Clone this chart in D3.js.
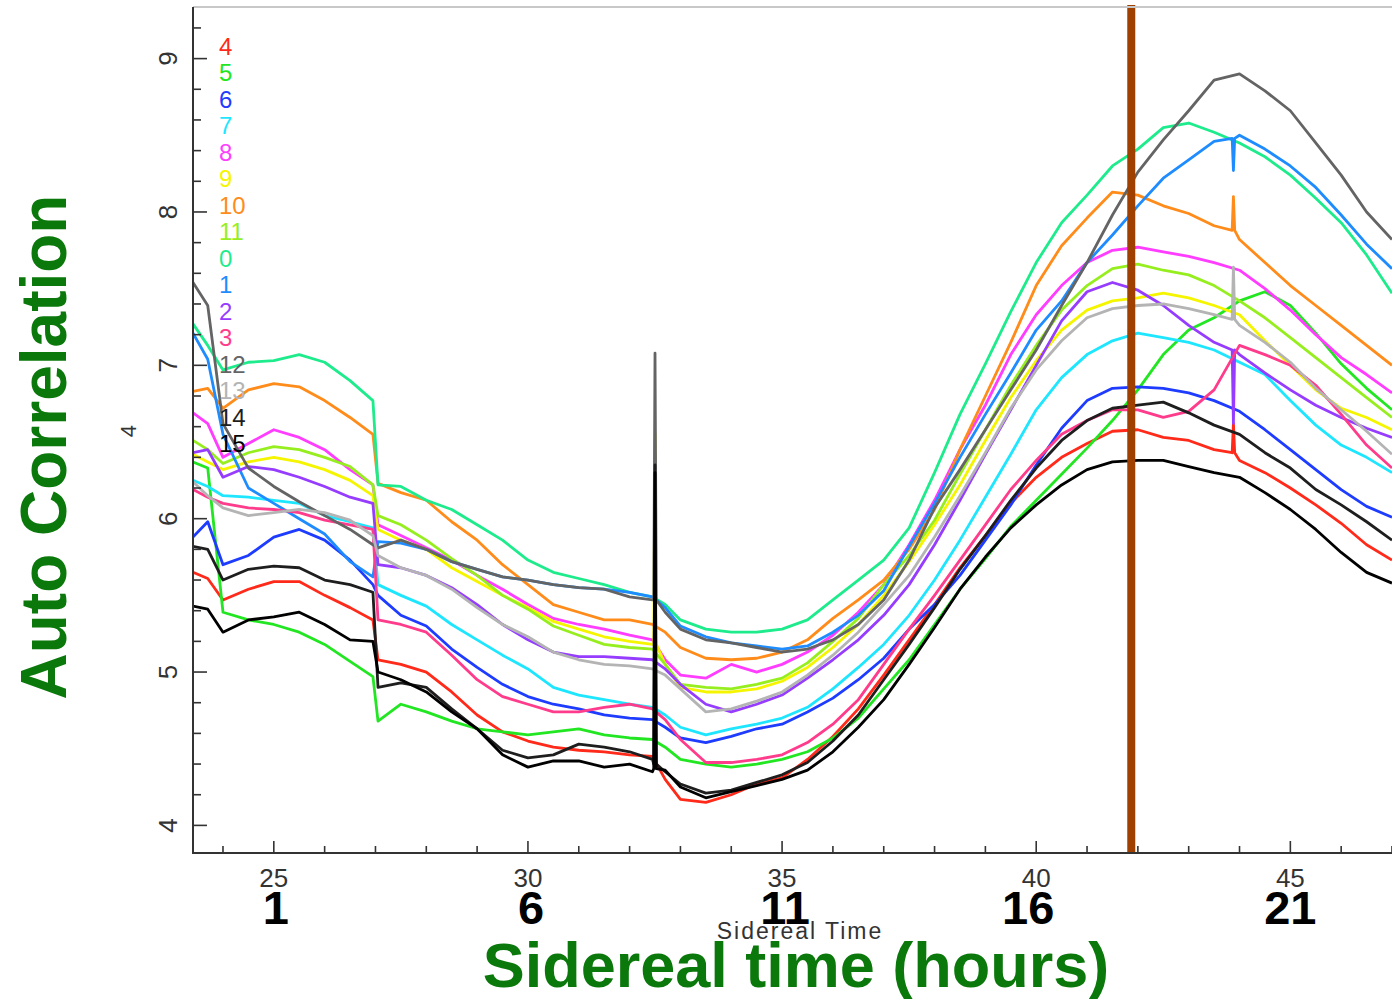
<!DOCTYPE html>
<html><head><meta charset="utf-8">
<script src="https://cdn.jsdelivr.net/npm/d3@7"></script>
<style>body{margin:0;background:#fff}svg{display:block}</style>
</head><body><svg id="c" width="1392" height="999"></svg>
<script>
// sample times (sidereal hours, continuous)
const hours = [23.41,23.7,24.0,24.5,25.0,25.5,26.0,26.5,26.95,27.05,27.5,28.0,28.5,29.0,29.5,30.0,30.5,31.0,31.5,32.0,32.45,32.7,33.0,33.5,34.0,34.5,35.0,35.5,36.0,36.5,37.0,37.5,38.0,38.5,39.0,39.5,40.0,40.5,41.0,41.5,42.0,42.5,43.0,43.5,44.0,44.5,45.0,45.5,46.0,46.5,47.0];

const ch4  = [5.65,5.61,5.47,5.54,5.59,5.59,5.50,5.42,5.34,5.08,5.05,5.00,4.87,4.72,4.61,4.55,4.51,4.49,4.48,4.46,4.45,4.30,4.17,4.15,4.20,4.27,4.31,4.43,4.58,4.76,4.98,5.21,5.44,5.68,5.89,6.10,6.27,6.40,6.49,6.57,6.58,6.53,6.51,6.45,6.38,6.30,6.20,6.09,5.97,5.83,5.73];
const ch5  = [6.37,6.33,5.39,5.34,5.31,5.26,5.18,5.07,4.97,4.68,4.79,4.74,4.68,4.63,4.61,4.59,4.61,4.63,4.59,4.57,4.56,4.51,4.43,4.40,4.38,4.40,4.43,4.48,4.57,4.70,4.89,5.08,5.31,5.54,5.74,5.95,6.12,6.29,6.46,6.64,6.84,7.07,7.23,7.31,7.42,7.48,7.39,7.21,7.01,6.85,6.71];
const ch6  = [5.88,5.98,5.70,5.76,5.88,5.93,5.86,5.73,5.57,5.50,5.37,5.30,5.15,5.03,4.92,4.84,4.79,4.76,4.72,4.70,4.69,4.64,4.57,4.54,4.58,4.63,4.66,4.74,4.83,4.95,5.09,5.28,5.44,5.63,5.86,6.09,6.35,6.59,6.77,6.85,6.86,6.85,6.82,6.77,6.70,6.58,6.45,6.32,6.19,6.08,6.01];
const ch7  = [6.25,6.21,6.15,6.14,6.12,6.10,6.02,5.98,5.94,5.57,5.50,5.43,5.31,5.21,5.11,5.02,4.90,4.85,4.82,4.79,4.77,4.72,4.64,4.59,4.63,4.66,4.70,4.77,4.89,5.03,5.18,5.37,5.60,5.86,6.14,6.42,6.71,6.92,7.07,7.16,7.21,7.18,7.15,7.10,7.02,6.94,6.77,6.61,6.48,6.40,6.30];
const ch8  = [6.69,6.62,6.40,6.49,6.58,6.53,6.45,6.32,6.22,5.96,5.89,5.81,5.73,5.63,5.54,5.44,5.35,5.31,5.28,5.24,5.21,5.08,4.98,4.96,5.05,5.00,5.05,5.13,5.24,5.39,5.57,5.83,6.12,6.45,6.74,7.07,7.33,7.52,7.67,7.75,7.77,7.74,7.71,7.67,7.62,7.50,7.36,7.20,7.05,6.94,6.82];
const ch9  = [6.42,6.37,6.32,6.37,6.40,6.37,6.32,6.25,6.15,5.93,5.86,5.80,5.68,5.59,5.50,5.42,5.33,5.28,5.23,5.20,5.18,5.05,4.90,4.87,4.87,4.89,4.94,5.03,5.16,5.31,5.50,5.72,5.96,6.22,6.51,6.79,7.03,7.23,7.36,7.42,7.44,7.47,7.44,7.39,7.33,7.16,7.00,6.84,6.72,6.66,6.58];
const ch10 = [6.83,6.85,6.72,6.84,6.88,6.86,6.77,6.66,6.55,6.23,6.17,6.12,5.98,5.86,5.70,5.57,5.44,5.39,5.34,5.34,5.31,5.26,5.16,5.09,5.08,5.09,5.13,5.21,5.35,5.47,5.60,5.80,6.06,6.45,6.80,7.15,7.52,7.78,7.96,8.13,8.11,8.04,7.99,7.91,7.82,7.67,7.52,7.39,7.26,7.13,7.00];
const ch11 = [6.51,6.45,6.36,6.43,6.47,6.45,6.40,6.34,6.22,6.02,5.96,5.86,5.74,5.63,5.50,5.41,5.30,5.24,5.18,5.16,5.15,5.05,4.92,4.90,4.89,4.92,4.96,5.06,5.20,5.35,5.57,5.76,5.99,6.29,6.58,6.87,7.13,7.36,7.52,7.63,7.66,7.62,7.59,7.52,7.42,7.31,7.18,7.05,6.92,6.79,6.66];
const ch0  = [7.27,7.13,6.97,7.02,7.03,7.07,7.02,6.90,6.77,6.22,6.21,6.12,6.06,5.96,5.86,5.73,5.65,5.61,5.57,5.52,5.49,5.44,5.34,5.28,5.26,5.26,5.28,5.34,5.47,5.60,5.73,5.94,6.30,6.68,7.01,7.35,7.67,7.93,8.11,8.30,8.41,8.55,8.58,8.52,8.45,8.36,8.24,8.09,7.93,7.72,7.47];
const ch1  = [7.21,7.04,6.55,6.20,6.10,6.00,5.90,5.72,5.62,5.85,5.84,5.80,5.72,5.67,5.62,5.60,5.57,5.55,5.54,5.52,5.49,5.42,5.30,5.23,5.19,5.17,5.15,5.17,5.26,5.37,5.53,5.82,6.10,6.40,6.68,6.95,7.23,7.42,7.67,7.85,8.04,8.22,8.34,8.46,8.50,8.41,8.30,8.16,7.98,7.79,7.63];
const ch2  = [6.43,6.45,6.27,6.34,6.32,6.27,6.21,6.14,6.10,5.70,5.68,5.63,5.55,5.44,5.31,5.21,5.13,5.10,5.10,5.09,5.08,5.02,4.92,4.79,4.74,4.79,4.85,4.96,5.08,5.21,5.37,5.57,5.83,6.12,6.42,6.71,7.00,7.29,7.48,7.54,7.49,7.39,7.26,7.15,7.07,6.95,6.84,6.74,6.66,6.59,6.53];
const ch3  = [6.19,6.14,6.10,6.07,6.06,6.04,5.99,5.96,5.93,5.34,5.31,5.26,5.11,4.95,4.84,4.79,4.74,4.74,4.77,4.79,4.76,4.69,4.56,4.41,4.41,4.43,4.46,4.54,4.66,4.82,5.05,5.28,5.50,5.73,5.96,6.19,6.38,6.55,6.64,6.71,6.71,6.66,6.70,6.84,7.13,7.07,7.00,6.87,6.68,6.48,6.33];
const ch12 = [7.54,7.39,6.62,6.33,6.21,6.11,6.02,5.93,5.83,5.81,5.86,5.80,5.72,5.67,5.62,5.60,5.57,5.55,5.54,5.49,5.47,5.39,5.28,5.21,5.19,5.16,5.13,5.15,5.21,5.31,5.47,5.73,6.07,6.32,6.58,6.84,7.10,7.39,7.67,7.98,8.26,8.47,8.66,8.86,8.90,8.79,8.66,8.45,8.24,8.00,7.82];
const ch13 = [6.24,6.15,6.07,6.02,6.04,6.06,6.04,5.99,5.89,5.76,5.68,5.63,5.54,5.42,5.31,5.23,5.13,5.08,5.05,5.04,5.02,4.98,4.89,4.74,4.76,4.81,4.87,4.98,5.11,5.26,5.44,5.63,5.88,6.15,6.43,6.72,6.97,7.16,7.31,7.37,7.39,7.40,7.37,7.33,7.26,7.15,7.02,6.85,6.71,6.57,6.42];
const ch14 = [5.82,5.80,5.60,5.67,5.69,5.68,5.60,5.57,5.52,4.90,4.93,4.90,4.76,4.63,4.49,4.44,4.46,4.53,4.51,4.48,4.43,4.35,4.27,4.21,4.23,4.28,4.33,4.41,4.55,4.72,4.95,5.18,5.42,5.67,5.89,6.12,6.33,6.51,6.64,6.72,6.74,6.76,6.69,6.61,6.55,6.43,6.33,6.19,6.09,5.98,5.86];
const ch15 = [5.43,5.41,5.26,5.34,5.36,5.39,5.31,5.21,5.20,5.00,4.95,4.87,4.74,4.63,4.46,4.38,4.42,4.42,4.38,4.40,4.35,4.36,4.25,4.18,4.22,4.26,4.30,4.36,4.48,4.64,4.82,5.05,5.29,5.54,5.75,5.94,6.09,6.22,6.32,6.37,6.38,6.38,6.34,6.30,6.27,6.17,6.06,5.93,5.78,5.65,5.58];

// spikes: [channel label, hour, base value, tip value]
const spikes = [
  ['12', 32.5, 5.47, 7.08], ['9', 32.5, 5.18, 6.55], ['14', 32.5, 4.40, 6.35], ['15', 32.5, 4.37, 6.30],
  ['10', 43.88, 7.88, 8.10], ['13', 43.88, 7.30, 7.64], ['2', 43.88, 7.10, 6.62], ['4', 43.88, 6.43, 6.62], ['1', 43.88, 8.48, 8.27]
];

const legendLabels = ['4','5','6','7','8','9','10','11','0','1','2','3','12','13','14','15'];
const seriesData   = [ch4,ch5,ch6,ch7,ch8,ch9,ch10,ch11,ch0,ch1,ch2,ch3,ch12,ch13,ch14,ch15];
const colors = ['#ff2a1a','#22e622','#1e3cff','#1ee6ff','#ff3cff','#f5f500','#ff8c1a','#96ee1e','#1eeb8c','#1e8cff','#963cff','#ff3c8c','#646464','#b4b4b4','#1e1e1e','#000000'];

const xTickMajor = [25,30,35,40,45];
const hourLabels = ['1','6','11','16','21'];
const yTickMajor = [4,5,6,7,8,9];
const markerHour = 41.87;

const svg = d3.select('#c');
const x = d3.scaleLinear().domain([23.41, 47.0]).range([193, 1392]);
const y = d3.scaleLinear().domain([3.82, 9.33]).range([853, 8]);

svg.append('defs').append('clipPath').attr('id','clip')
  .append('rect').attr('x',193).attr('y',0).attr('width',1199).attr('height',853);

const line = d3.line().x(d=>x(d[0])).y(d=>y(d[1]));
const plot = svg.append('g').attr('clip-path','url(#clip)');

seriesData.forEach((vals,i)=>{
  const lab = legendLabels[i];
  let pts = hours.map((h,j)=>[h, vals[j]]);
  spikes.filter(s=>s[0]===lab).forEach(s=>{
    pts.push([s[1]-0.025, s[2]], [s[1], s[3]], [s[1]+0.025, s[2]]);
  });
  pts.sort((a,b)=>a[0]-b[0]);
  plot.append('path').datum(pts).attr('d', line)
    .attr('fill','none').attr('stroke', colors[i]).attr('stroke-width', 2.8)
    .attr('stroke-linejoin','round');
});

// marker line
svg.append('line').attr('x1',x(markerHour)).attr('x2',x(markerHour)).attr('y1',5).attr('y2',853)
  .attr('stroke','#a04000').attr('stroke-width',8);

// frame
svg.append('line').attr('x1',193).attr('x2',1392).attr('y1',7).attr('y2',7).attr('stroke','#c8c8c8').attr('stroke-width',2);
svg.append('line').attr('x1',193).attr('x2',193).attr('y1',7).attr('y2',854).attr('stroke','#333').attr('stroke-width',2);
svg.append('line').attr('x1',192).attr('x2',1392).attr('y1',853).attr('y2',853).attr('stroke','#333').attr('stroke-width',2);

// y ticks
d3.range(4.0, 9.21, 0.2).forEach(v=>{
  const major = Math.abs(v-Math.round(v))<1e-6;
  svg.append('line').attr('x1',193).attr('x2',193+(major?14:8)).attr('y1',y(v)).attr('y2',y(v))
    .attr('stroke','#333').attr('stroke-width',1.6);
});
// x ticks
d3.range(24, 48, 1).forEach(v=>{
  const major = v%5===0;
  svg.append('line').attr('x1',x(v)).attr('x2',x(v)).attr('y1',853).attr('y2',853-(major?12:7))
    .attr('stroke','#333').attr('stroke-width',1.6);
});

const font = "'Liberation Sans', Arial, Helvetica, sans-serif";
yTickMajor.forEach(v=>{
  svg.append('text').attr('transform',`translate(177,${y(v)}) rotate(-90)`)
    .attr('text-anchor','middle').attr('font-family',font).attr('font-size',26).attr('fill','#333').text(v);
});
svg.append('text').attr('transform','translate(136,431) rotate(-90)')
  .attr('text-anchor','middle').attr('font-family',font).attr('font-size',22).attr('fill','#333').text('4');

xTickMajor.forEach(v=>{
  svg.append('text').attr('x',x(v)).attr('y',887).attr('text-anchor','middle')
    .attr('font-family',font).attr('font-size',26).attr('fill','#333').text(v);
});

svg.append('text').attr('x',800).attr('y',939).attr('text-anchor','middle')
  .attr('font-family',font).attr('font-size',23).attr('letter-spacing','2px').attr('fill','#333').text('Sidereal Time');

const hourOffsets = [2,3,3,-8,0];
hourLabels.forEach((t,i)=>{
  svg.append('text').attr('x',x(xTickMajor[i])+hourOffsets[i]).attr('y',924).attr('text-anchor','middle')
    .attr('font-family',font).attr('font-size',47).attr('font-weight','bold').attr('fill','#000').text(t);
});

svg.append('text').attr('x',796).attr('y',987).attr('text-anchor','middle')
  .attr('font-family',font).attr('font-size',63).attr('font-weight','bold').attr('fill','#0b780b').text('Sidereal time (hours)');

svg.append('text').attr('transform','translate(66,447) rotate(-90)').attr('text-anchor','middle')
  .attr('font-family',font).attr('font-size',64).attr('font-weight','bold').attr('fill','#0b780b').text('Auto Correlation');

// legend
legendLabels.forEach((t,i)=>{
  svg.append('text').attr('x',219).attr('y',55+26.47*i)
    .attr('font-family',font).attr('font-size',24).attr('fill',colors[i]).text(t);
});
</script></body></html>
